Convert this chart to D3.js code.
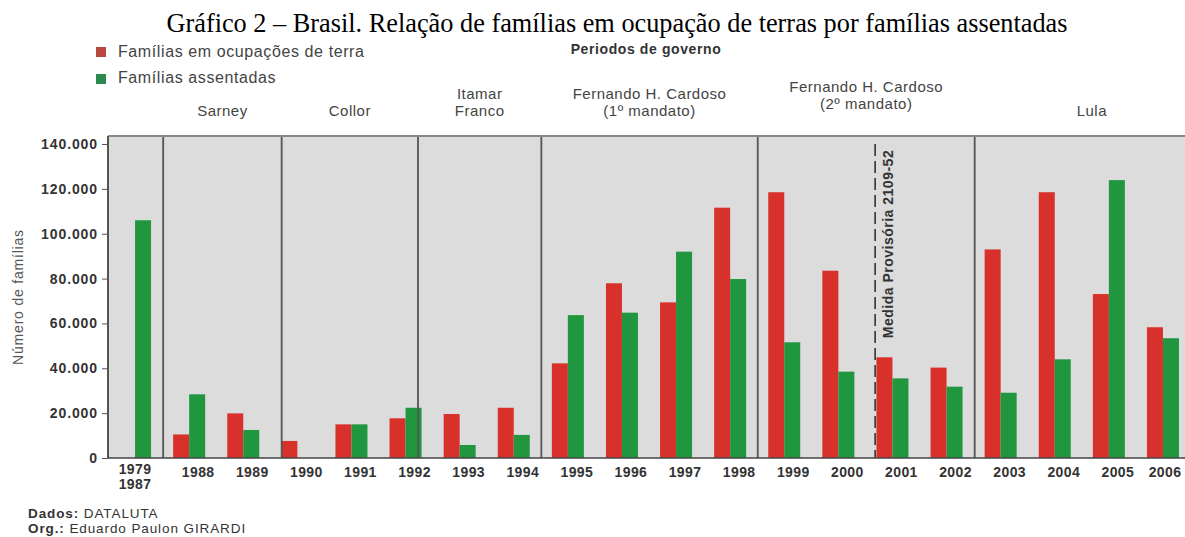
<!DOCTYPE html>
<html><head><meta charset="utf-8">
<script src="https://cdn.jsdelivr.net/npm/d3@7"></script>
<style>body{margin:0;background:#fff} svg{display:block}</style>
</head><body><svg id="c" width="1185" height="537"></svg>
<script>
// ---- data ----
const years = ["1979|1987","1988","1989","1990","1991","1992","1993","1994","1995","1996","1997","1998","1999","2000","2001","2002","2003","2004","2005","2006"];
const ocupacoes = [0,10500,19900,7600,15000,17700,19600,22400,42200,77900,69400,111600,118500,83500,44900,40300,93000,118500,73100,58300];
const assentadas = [106000,28400,12500,0,15000,22400,5800,10300,63700,64800,92000,79800,51600,38500,35500,31800,29100,44000,123900,53400];
const yTicks = [0,20000,40000,60000,80000,100000,120000,140000];
const periodNames = [["Sarney"],["Collor"],["Itamar","Franco"],["Fernando H. Cardoso","(1º mandato)"],["Fernando H. Cardoso","(2º mandato)"],["Lula"]];
const periodBounds = [1.02,3.21,5.73,8.01,12.01,16.02,20.35]; // in category units
const medidaPos = 14.18; // category units
const seriesNames = ["Famílias em ocupações de terra","Famílias assentadas"];
const titleText = "Gráfico 2 – Brasil. Relação de famílias em ocupação de terras por famílias assentadas";

// ---- layout ----
const W = 1185;
const L = 108, R = 1190, T = 136, B = 458;
const RED = "#d8312b", GREEN = "#20963f";
const sans = "'Liberation Sans', Arial, sans-serif";
const svg = d3.select("#c");

const x = d3.scaleBand().domain(years).range([L, R]).padding(0);
const xi = d3.scaleLinear().domain([0, years.length]).range([L, R]);
const y = d3.scaleLinear().domain([0, 140000]).range([B, 144]);
const bw = 16;

// plot background
svg.append("rect").attr("x", L).attr("y", T).attr("width", R - L).attr("height", B - T).attr("fill", "#dcdcdc");

// bars
const g = svg.append("g");
years.forEach((yr, i) => {
  const c = x(yr) + x.bandwidth() / 2;
  if (ocupacoes[i] > 0) g.append("rect").attr("x", c - bw).attr("y", y(ocupacoes[i])).attr("width", bw).attr("height", y(0) - y(ocupacoes[i])).attr("fill", RED);
  if (assentadas[i] > 0) g.append("rect").attr("x", c).attr("y", y(assentadas[i])).attr("width", bw).attr("height", y(0) - y(assentadas[i])).attr("fill", GREEN);
});

// period separators
periodBounds.slice(0, -1).forEach(p => {
  svg.append("line").attr("x1", xi(p)).attr("x2", xi(p)).attr("y1", T).attr("y2", B).attr("stroke", "#555").attr("stroke-width", 1.8);
});
// medida provisoria dashed line
svg.append("line").attr("x1", xi(medidaPos)).attr("x2", xi(medidaPos)).attr("y1", T + 8).attr("y2", B)
  .attr("stroke", "#333").attr("stroke-width", 1.6).attr("stroke-dasharray", "12,5");
svg.append("text").attr("transform", `translate(${xi(medidaPos) + 18},244) rotate(-90)`)
  .attr("text-anchor", "middle").attr("font-family", sans).attr("font-weight", "bold").attr("font-size", 14)
  .attr("letter-spacing", 0.5).attr("fill", "#333").text("Medida Provisória 2109-52");

// frame lines
svg.append("line").attr("x1", L).attr("x2", R).attr("y1", T).attr("y2", T).attr("stroke", "#888").attr("stroke-width", 2);
svg.append("line").attr("x1", L).attr("x2", L).attr("y1", T).attr("y2", B).attr("stroke", "#555").attr("stroke-width", 2);
svg.append("line").attr("x1", L).attr("x2", R).attr("y1", B).attr("y2", B).attr("stroke", "#444").attr("stroke-width", 1.5);

// y axis
const loc = d3.formatLocale({decimal: ",", thousands: ".", grouping: [3], currency: ["", ""]});
const fmt = loc.format(",d");
const ya = svg.append("g").attr("transform", `translate(${L},0)`)
  .call(d3.axisLeft(y).tickValues(yTicks).tickFormat(fmt).tickSize(6).tickPadding(4));
ya.select(".domain").remove();
ya.selectAll(".tick line").attr("stroke", "#555");
ya.selectAll(".tick text").attr("font-family", sans).attr("font-weight", "bold").attr("font-size", 14)
  .attr("letter-spacing", 0.9).attr("fill", "#333");

// x labels
const xl = svg.append("g");
years.forEach(yr => {
  const parts = yr.split("|");
  const c = Math.min(x(yr) + x.bandwidth() / 2 + (parts.length > 1 ? 0 : 9), W - 20);
  const t = xl.append("text").attr("x", c).attr("y", parts.length > 1 ? 474 : 477).attr("text-anchor", "middle")
    .attr("font-family", sans).attr("font-weight", "bold").attr("font-size", 14).attr("letter-spacing", 0.4).attr("fill", "#333");
  parts.forEach((p, k) => t.append("tspan").attr("x", c).attr("dy", k ? 15 : 0).text(p));
});

// y axis title
svg.append("text").attr("transform", "translate(23,297) rotate(-90)").attr("text-anchor", "middle")
  .attr("font-family", sans).attr("font-size", 14).attr("letter-spacing", 0.8).attr("fill", "#555").text("Número de famílias");

// period labels
periodNames.forEach((lines, i) => {
  const c = (xi(periodBounds[i]) + xi(periodBounds[i + 1])) / 2;
  const base = i === 4 ? 108.5 : 115.5;
  lines.forEach((ln, k) => {
    svg.append("text").attr("x", c).attr("y", base - (lines.length - 1 - k) * 16.5).attr("text-anchor", "middle")
      .attr("font-family", sans).attr("font-size", 15).attr("letter-spacing", 0.5).attr("fill", "#444").text(ln);
  });
});
svg.append("text").attr("x", 646).attr("y", 54).attr("text-anchor", "middle").attr("font-family", sans)
  .attr("font-weight", "bold").attr("font-size", 14).attr("letter-spacing", 0.6).attr("fill", "#333").text("Periodos de governo");

// legend
const legColors = ["#b9483e", "#2d8a4e"];
seriesNames.forEach((n, i) => {
  svg.append("rect").attr("x", 96).attr("y", 47 + i * 27).attr("width", 10).attr("height", 10).attr("fill", legColors[i]);
  svg.append("text").attr("x", 118).attr("y", 56.5 + i * 26.5).attr("font-family", sans).attr("font-size", 16)
    .attr("letter-spacing", 0.6).attr("fill", "#444").text(n);
});

// title
svg.append("text").attr("x", 617).attr("y", 32).attr("text-anchor", "middle").attr("font-family", "'Liberation Serif', 'Times New Roman', serif")
  .attr("font-size", 26.3).attr("fill", "#000").text(titleText);

// footer
const foot = [["Dados:", " DATALUTA"], ["Org.:", " Eduardo Paulon GIRARDI"]];
foot.forEach((f, i) => {
  const t = svg.append("text").attr("x", 28).attr("y", 517.5 + i * 15).attr("font-family", sans).attr("font-size", 13.5)
    .attr("letter-spacing", 0.9).attr("fill", "#333");
  t.append("tspan").attr("font-weight", "bold").text(f[0]);
  t.append("tspan").text(f[1]);
});
</script></body></html>
